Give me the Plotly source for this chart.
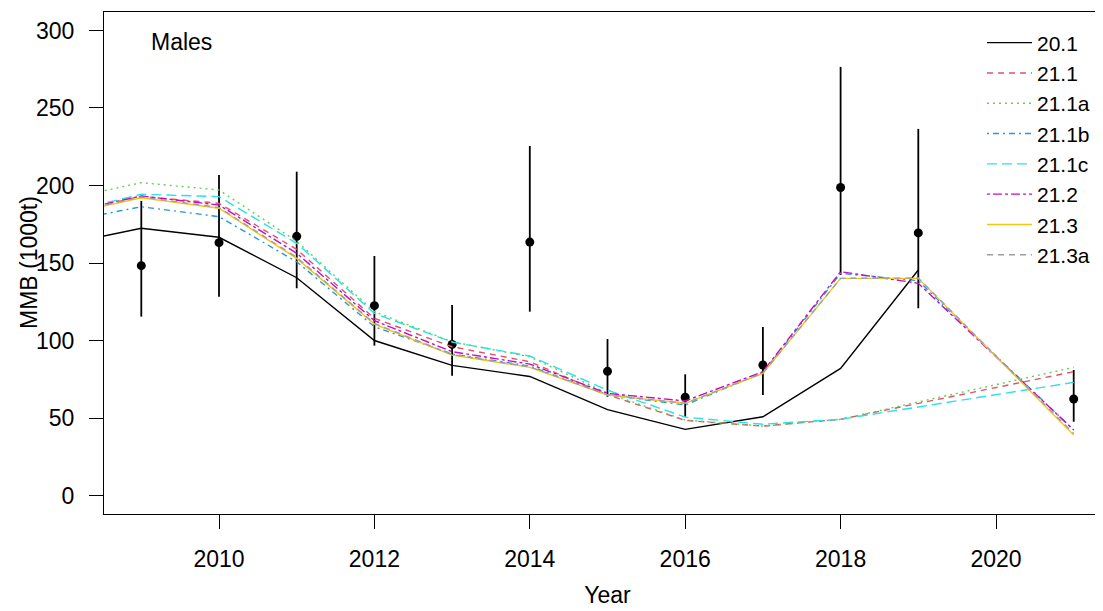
import plotly.graph_objects as go

# ---- data ----
years = [2008, 2009, 2010, 2011, 2012, 2013, 2014, 2015, 2016, 2017, 2018, 2019, 2020, 2021]
years_201 = years[:12]

mmb_201 = [162, 172.4, 166.6, 140.5, 100.0, 84.0, 76.8, 55.4, 42.7, 50.8, 82.0, 145.5]
mmb_211 = [182, 193.0, 188.5, 158.8, 114.3, 96.0, 86.3, 65.0, 48.5, 44.8, 49.2, 59.5, 69.6, 79.9]
mmb_211a = [191, 201.8, 197.1, 164.0, 118.6, 99.2, 89.5, 66.0, 48.7, 44.8, 49.2, 60.5, 71.5, 82.7]
mmb_211b = [176.5, 186.3, 179.9, 150.8, 108.9, 91.3, 83.5, 65.0, 58.4, 79.3, 143.3, 138.6, 90.0, 42.3]
mmb_211c = [182.2, 194.3, 192.8, 162.7, 117.5, 99.0, 90.0, 68.0, 50.6, 46.0, 49.2, 57.0, 65.0, 73.0]
mmb_212 = [182.2, 193.2, 187.4, 156.3, 112.8, 92.8, 84.8, 65.9, 61.0, 79.9, 144.4, 136.9, 89.5, 42.3]
mmb_213 = [181, 192.1, 185.3, 153.0, 110.6, 90.6, 82.7, 64.8, 59.5, 78.8, 140.1, 140.1, 89.6, 39.0]
mmb_213a = [181.5, 192.6, 185.8, 153.6, 111.0, 91.0, 83.0, 65.0, 59.5, 79.0, 140.1, 140.3, 90.0, 40.1]

obs_years = [2009, 2010, 2011, 2012, 2013, 2014, 2015, 2016, 2017, 2018, 2019, 2021]
obs_mmb = [148.3, 163.1, 167.2, 122.5, 97.5, 163.5, 80.1, 63.4, 84.2, 198.7, 169.4, 62.3]
obs_hi = [190.0, 206.8, 208.9, 154.5, 122.9, 225.5, 101.0, 78.2, 108.7, 276.5, 236.5, 81.0]
obs_lo = [115.4, 128.3, 133.7, 96.7, 77.3, 118.6, 63.7, 50.9, 64.8, 142.3, 120.8, 47.6]

x_ticks = [2010, 2012, 2014, 2016, 2018, 2020]
y_ticks = [0, 50, 100, 150, 200, 250, 300]

series = [
    ("20.1", years_201, mmb_201, "black", "solid"),
    ("21.1", years, mmb_211, "#DF536B", "6px,5px"),
    ("21.1a", years, mmb_211a, "#61D04F", "2px,4px"),
    ("21.1b", years, mmb_211b, "#2297E6", "2px,4px,6px,4px"),
    ("21.1c", years, mmb_211c, "#28E2E5", "10px,5px"),
    ("21.2", years, mmb_212, "#CD0BBC", "3px,3px,9px,3px"),
    ("21.3", years, mmb_213, "#F5C710", "solid"),
    ("21.3a", years, mmb_213a, "#9E9E9E", "6px,5px"),
]

FONT = "Liberation Sans, Arial, sans-serif"
FS = 23

# page offset compensation (body margin of 8px)
L, T, B = 96, 4, 105
PW = 1103 - L
PH = 611 - T - B
PX_PER_YEAR = 77.7

fig = go.Figure()

err_plus = [h - m for h, m in zip(obs_hi, obs_mmb)]
err_minus = [m - l for m, l in zip(obs_mmb, obs_lo)]
fig.add_trace(go.Scatter(
    x=obs_years, y=obs_mmb, mode="markers",
    marker=dict(color="black", size=9),
    error_y=dict(type="data", array=err_plus, arrayminus=err_minus,
                 color="black", thickness=1.8, width=0),
    showlegend=False, hoverinfo="skip",
))

for name, xs, ys, col, dash in series:
    fig.add_trace(go.Scatter(
        x=xs, y=ys, mode="lines", name=name,
        line=dict(color=col, width=1.4, dash=dash),
    ))

fig.add_annotation(x=(141 - L) / PW, y=1 - (34 - T) / PH, xref="paper", yref="paper",
                   text="Males", showarrow=False, xanchor="left", yanchor="middle",
                   font=dict(family=FONT, size=FS, color="black"))
fig.add_annotation(x=(21 - L) / PW, y=0.5, xref="paper", yref="paper",
                   text="MMB (1000t)", showarrow=False, textangle=-90,
                   xanchor="center", yanchor="middle",
                   font=dict(family=FONT, size=FS, color="black"))

fig.update_layout(
    width=1103, height=611,
    margin=dict(l=L, r=0, t=T, b=B),
    paper_bgcolor="white", plot_bgcolor="white",
    font=dict(family=FONT, size=FS, color="black"),
    legend=dict(x=(974 - L) / PW, y=1 - (14.5 - T) / PH, xref="paper", yref="paper",
                xanchor="left", yanchor="top", bgcolor="rgba(0,0,0,0)",
                font=dict(family=FONT, size=21), itemwidth=45,
                tracegroupgap=0),
    xaxis=dict(range=[2008.52, 2008.52 + PW / PX_PER_YEAR], tickvals=x_ticks,
               ticks="outside", ticklen=14, tickwidth=1.3, tickcolor="black",
               showline=True, linecolor="black", linewidth=1.3, mirror=True,
               showgrid=False, zeroline=False, ticklabelstandoff=10,
               title=dict(text="Year", standoff=16, font=dict(size=FS))),
    yaxis=dict(range=[-11.9, 311.9], tickvals=y_ticks,
               ticks="outside", ticklen=14, tickwidth=1.3, tickcolor="black",
               showline=True, linecolor="black", linewidth=1.3, mirror=False,
               showgrid=False, zeroline=False, ticklabelstandoff=10),
)

fig.write_html("out.html")
